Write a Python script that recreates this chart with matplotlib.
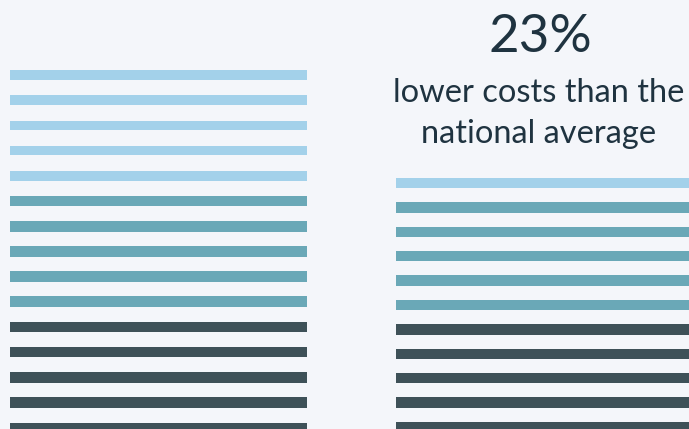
import matplotlib
matplotlib.use("Agg")
import matplotlib.pyplot as plt
import numpy as np

# Data: number of stripes per tier in each column
columns = ["Typical", "Ours"]
light_counts = [5, 1]
mid_counts = [5, 5]
dark_counts = [5, 5]
headline = "23%"
subtitle_lines = ["lower costs than the", "national average"]

colors = {"light": "#a3d1ea", "mid": "#6aa8b7", "dark": "#3e5158"}
bg = "#f4f6fa"
text_color = "#1f3340"

W, H = 689, 429
fig = plt.figure(figsize=(W / 100, H / 100), dpi=100, facecolor=bg)

# axes placement (pixels): x-left, x-right, first stripe center, stripe spacing
layout = [
    (10, 307, 75, 25.2),
    (396, 689, 183, 24.4),
]
thick = {"light": 0.38, "mid": 0.43, "dark": 0.42}

for ci, (x0, x1, y0, sp) in enumerate(layout):
    ax = fig.add_axes([x0 / W, 0, (x1 - x0) / W, 1])
    ax.set_facecolor("none")
    idx = 0
    for tier, counts in (("light", light_counts), ("mid", mid_counts), ("dark", dark_counts)):
        n = counts[ci]
        ys = np.arange(idx, idx + n)
        ax.barh(ys, 1, left=0, height=thick[tier], color=colors[tier], edgecolor="none")
        idx += n
    ax.set_xlim(0, 1)
    ax.set_ylim((H - y0) / sp, -y0 / sp)
    ax.axis("off")

fig.text(540 / W, 1 - 52 / H, headline, ha="center", va="baseline",
         fontsize=38, color=text_color, family="Lato")
for line, base in zip(subtitle_lines, (102, 143)):
    fig.text(539 / W, 1 - base / H, line, ha="center", va="baseline",
             fontsize=23.5, color=text_color, family="Lato")

fig.savefig("out.png", dpi=100, facecolor=bg)
